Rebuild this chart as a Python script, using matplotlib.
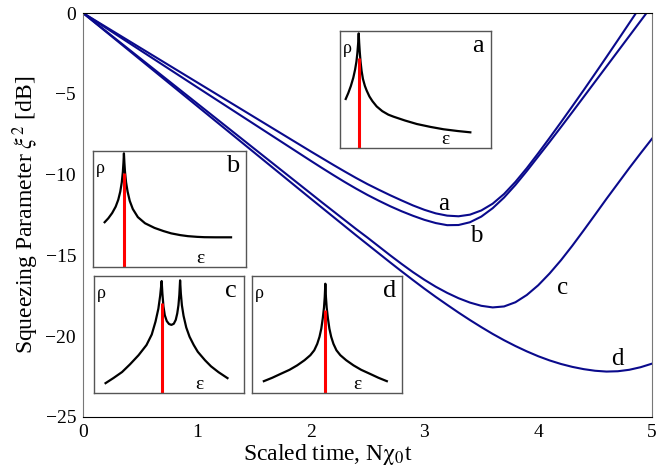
import matplotlib
matplotlib.use("Agg")
import matplotlib.pyplot as plt

# squeezing curves (time in units of N*chi0, squeezing in dB)
t_a = [0, 0.5, 1.0, 1.5, 2.0, 2.1, 2.2, 2.3, 2.4, 2.5, 2.6, 2.7, 2.8, 2.9,
       3.0, 3.1, 3.2, 3.3, 3.4, 3.5, 3.6, 3.7, 3.8, 3.9, 4.0, 4.1, 4.2, 4.3,
       4.4, 4.5, 4.6, 4.7, 4.8, 4.86]
xi_a = [0, -2.14, -4.28, -6.42, -8.56, -8.98, -9.40, -9.81, -10.21, -10.59,
        -10.94, -11.28, -11.6, -11.91, -12.18, -12.40, -12.54, -12.58, -12.48,
        -12.22, -11.8, -11.2, -10.45, -9.6, -8.68, -7.73, -6.76, -5.77, -4.77,
        -3.75, -2.72, -1.68, -0.63, 0.0]

t_b = [0, 0.5, 1.0, 1.5, 2.0, 2.1, 2.2, 2.3, 2.4, 2.5, 2.6, 2.7, 2.8, 2.9,
       3.0, 3.1, 3.2, 3.3, 3.4, 3.5, 3.6, 3.7, 3.8, 3.9, 4.0, 4.1, 4.2, 4.3,
       4.4, 4.5, 4.6, 4.7, 4.8, 4.9, 4.952]
xi_b = [0, -2.29, -4.58, -6.86, -9.14, -9.59, -10.03, -10.46, -10.87, -11.26,
        -11.62, -11.96, -12.27, -12.55, -12.8, -13.0, -13.13, -13.12, -12.95,
        -12.6, -12.08, -11.42, -10.64, -9.78, -8.88, -7.98, -7.06, -6.13,
        -5.19, -4.25, -3.31, -2.37, -1.43, -0.49, 0.0]

t_c = [0, 0.5, 1.0, 1.5, 2.0, 2.1, 2.2, 2.3, 2.4, 2.5, 2.6, 2.7, 2.8, 2.9,
       3.0, 3.1, 3.2, 3.3, 3.4, 3.5, 3.6, 3.7, 3.8, 3.9, 4.0, 4.1, 4.2, 4.3,
       4.4, 4.5, 4.6, 4.7, 4.8, 4.9, 5.0]
xi_c = [0, -2.79, -5.58, -8.37, -11.16, -11.72, -12.27, -12.82, -13.37, -13.9,
        -14.45, -15.0, -15.53, -16.04, -16.51, -16.94, -17.32, -17.65, -17.92,
        -18.12, -18.22, -18.16, -17.9, -17.45, -16.85, -16.12, -15.3, -14.4,
        -13.45, -12.48, -11.5, -10.55, -9.6, -8.68, -7.78]

t_d = [0, 0.5, 1.0, 1.5, 2.0, 2.1, 2.2, 2.3, 2.4, 2.5, 2.6, 2.7, 2.8, 2.9,
       3.0, 3.1, 3.2, 3.3, 3.4, 3.5, 3.6, 3.7, 3.8, 3.9, 4.0, 4.1, 4.2, 4.3,
       4.4, 4.5, 4.6, 4.7, 4.8, 4.9, 5.0]
xi_d = [0, -2.87, -5.74, -8.61, -11.48, -12.05, -12.62, -13.19, -13.76,
        -14.32, -14.88, -15.44, -15.99, -16.53, -17.06, -17.57, -18.06,
        -18.54, -19.0, -19.44, -19.86, -20.25, -20.61, -20.94, -21.24, -21.5,
        -21.72, -21.9, -22.04, -22.14, -22.19, -22.17, -22.08, -21.92, -21.7]

curve_names = ["a", "b", "c", "d"]
label_pos = [(3.17, -11.8), (3.46, -13.8), (4.21, -17.0), (4.70, -21.4)]

# density of states sketches for the insets (normalised energy / rho)
eps_a = [0.038, 0.055, 0.072, 0.088, 0.1, 0.109, 0.115, 0.12, 0.124, 0.127,
         0.131, 0.136, 0.143, 0.152, 0.165, 0.177, 0.195, 0.215, 0.243, 0.28,
         0.32, 0.354, 0.43, 0.509, 0.6, 0.686, 0.78, 0.863]
rho_a = [0.419, 0.47, 0.53, 0.6, 0.67, 0.74, 0.81, 0.89, 0.98, 0.90, 0.82,
         0.74, 0.66, 0.59, 0.53, 0.49, 0.44, 0.40, 0.355, 0.315, 0.285, 0.268,
         0.235, 0.205, 0.18, 0.16, 0.145, 0.134]

eps_b = [0.076, 0.10, 0.125, 0.148, 0.165, 0.178, 0.188, 0.195, 0.199, 0.202,
         0.205, 0.209, 0.216, 0.226, 0.24, 0.26, 0.293, 0.34, 0.402, 0.46,
         0.511, 0.57, 0.62, 0.68, 0.728, 0.80, 0.902]
rho_b = [0.386, 0.42, 0.465, 0.52, 0.58, 0.65, 0.73, 0.82, 0.90, 0.98, 0.90,
         0.82, 0.73, 0.65, 0.57, 0.50, 0.43, 0.377, 0.337, 0.31, 0.29, 0.275,
         0.266, 0.26, 0.257, 0.256, 0.256]

eps_c = [0.077, 0.13, 0.187, 0.24, 0.297, 0.35, 0.385, 0.41, 0.429, 0.441,
         0.451, 0.456, 0.463, 0.472, 0.485, 0.5, 0.516, 0.532, 0.545, 0.555,
         0.563, 0.569, 0.574, 0.579, 0.586, 0.597, 0.615, 0.637, 0.665, 0.692,
         0.74, 0.78, 0.83, 0.89]
rho_c = [0.084, 0.128, 0.179, 0.245, 0.323, 0.41, 0.50, 0.61, 0.72, 0.83,
         0.957, 0.85, 0.74, 0.665, 0.615, 0.59, 0.582, 0.592, 0.625, 0.68,
         0.75, 0.84, 0.963, 0.85, 0.75, 0.66, 0.56, 0.481, 0.41, 0.352, 0.28,
         0.228, 0.178, 0.127]

eps_d = [0.079, 0.135, 0.192, 0.25, 0.301, 0.35, 0.389, 0.415, 0.435, 0.45,
         0.462, 0.472, 0.48, 0.485, 0.489, 0.493, 0.498, 0.506, 0.516, 0.528,
         0.543, 0.563, 0.589, 0.628, 0.677, 0.728, 0.786, 0.843, 0.899]
rho_d = [0.101, 0.13, 0.164, 0.198, 0.236, 0.28, 0.323, 0.365, 0.42, 0.48,
         0.55, 0.64, 0.73, 0.82, 0.934, 0.82, 0.73, 0.64, 0.55, 0.48, 0.42,
         0.365, 0.323, 0.28, 0.236, 0.198, 0.164, 0.13, 0.101]

# working point (red line) in each inset: position and height
mark_eps = [0.124, 0.202, 0.451, 0.489]
mark_top = [0.766, 0.813, 0.77, 0.712]

plt.rcParams.update({
    "font.family": ["Liberation Serif", "DejaVu Serif"],
    "mathtext.fontset": "stix",
    "font.size": 14,
})

blue = "#0a0a8c"

fig = plt.figure(figsize=(6.63, 4.66), dpi=100)
ax = fig.add_axes([0.1252, 0.1052, 0.8582, 0.8669])

for t, xi in [(t_a, xi_a), (t_b, xi_b), (t_c, xi_c), (t_d, xi_d)]:
    ax.plot(t, xi, color=blue, linewidth=1.5, solid_joinstyle="round")

for name, (x, y) in zip(curve_names, label_pos):
    ax.text(x, y, name, fontsize=18, ha="center", va="center")

ax.set_xlim(0, 5)
ax.set_ylim(-25, 0)
ax.set_xticks([0, 1, 2, 3, 4, 5])
ax.set_yticks([0, -5, -10, -15, -20, -25])
ax.tick_params(length=0, pad=5, labelsize=14)
ax.set_xlabel(r"Scaled time, N$\mathrm{\chi}_0$t", fontsize=17)
ax.xaxis.set_label_coords(0.43, -0.062, transform=ax.transAxes)
ax.xaxis.label.set_va("top")
ax.set_ylabel(r"Squeezing Parameter $\xi^2$ [dB]", fontsize=17, labelpad=3)
for side in ["top", "bottom"]:
    ax.spines[side].set_color("black")
for side in ["left", "right"]:
    ax.spines[side].set_color("#777777")

# insets
inset_boxes = [
    [0.5128, 0.6824, 0.2278, 0.2511],
    [0.1403, 0.4270, 0.2308, 0.2490],
    [0.1418, 0.1567, 0.2262, 0.2510],
    [0.3801, 0.1567, 0.2262, 0.2510],
]
inset_curves = [(eps_a, rho_a), (eps_b, rho_b), (eps_c, rho_c), (eps_d, rho_d)]

for i, box in enumerate(inset_boxes):
    ins = fig.add_axes(box)
    eps, rho = inset_curves[i]
    ins.plot(eps, rho, color="black", linewidth=1.6, solid_joinstyle="round")
    ins.plot([mark_eps[i], mark_eps[i]], [0, mark_top[i]], color="red",
             linewidth=2.2, solid_capstyle="butt")
    ins.set_xlim(0, 1)
    ins.set_ylim(0, 1)
    ins.set_xticks([])
    ins.set_yticks([])
    for sp in ins.spines.values():
        sp.set_color("#555555")
        sp.set_linewidth(1.0)
    ins.text(0.05, 0.85, "ρ", fontsize=13, ha="center", va="center",
             transform=ins.transAxes)
    ins.text(0.915, 0.87, curve_names[i], fontsize=19, ha="center",
             va="center", transform=ins.transAxes)
    ins.text(0.70, 0.075, "ε", fontsize=14, ha="center", va="center",
             transform=ins.transAxes)

fig.savefig("out.png", dpi=100)
